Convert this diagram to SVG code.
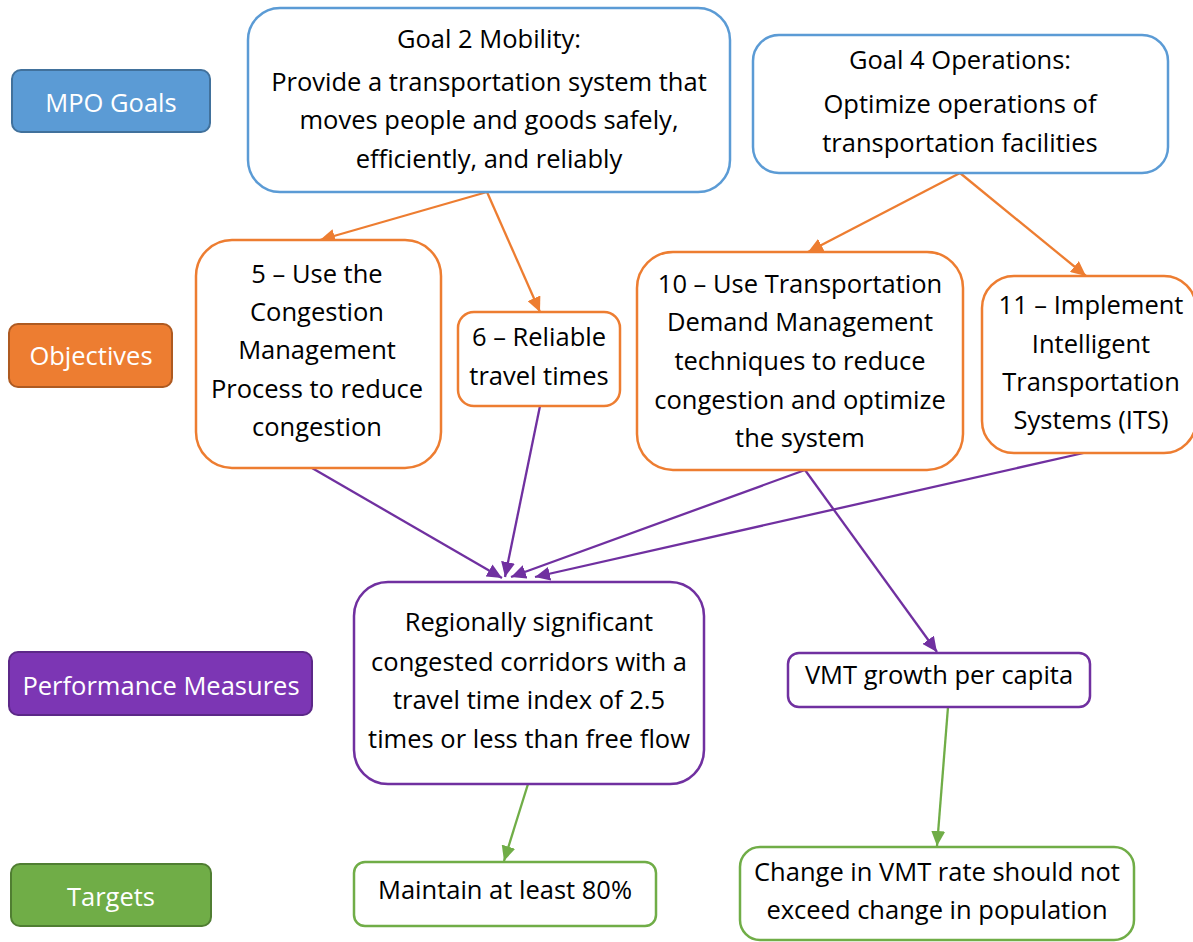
<svg xmlns="http://www.w3.org/2000/svg" width="1193" height="942" viewBox="0 0 1193 942">
<style>
text{font-family:"Open Sans","Noto Sans","Liberation Sans",sans-serif;font-size:25.5px;text-anchor:middle;fill:#000;font-variant-ligatures:none}
.lbl text{fill:#fff}
.box{fill:#fff;stroke-width:2.5}
.b{stroke:#5B9BD5}.o{stroke:#ED7D31}.p{stroke:#7030A0}.g{stroke:#70AD47}
.con line{stroke-width:2.3;fill:none}
</style>
<defs>
<marker id="ao" markerUnits="userSpaceOnUse" markerWidth="16" markerHeight="14" refX="15" refY="7" orient="auto"><path d="M0,0 L15,7 L0,14 z" fill="#ED7D31"/></marker>
<marker id="ap" markerUnits="userSpaceOnUse" markerWidth="16" markerHeight="14" refX="15" refY="7" orient="auto"><path d="M0,0 L15,7 L0,14 z" fill="#7030A0"/></marker>
<marker id="ag" markerUnits="userSpaceOnUse" markerWidth="16" markerHeight="14" refX="15" refY="7" orient="auto"><path d="M0,0 L15,7 L0,14 z" fill="#70AD47"/></marker>
</defs>
<rect width="1193" height="942" fill="#fff"/>

<g id="lbl-goals" class="lbl"><rect x="12" y="70" width="198" height="62" rx="9" fill="#5B9BD5" stroke="#41719C" stroke-width="2"/><text x="111" y="112">MPO Goals</text></g>
<g id="lbl-objectives" class="lbl"><rect x="9" y="324" width="163" height="63" rx="9" fill="#ED7D31" stroke="#AE5A21" stroke-width="2"/><text x="91" y="365">Objectives</text></g>
<g id="lbl-measures" class="lbl"><rect x="9" y="652" width="303" height="63" rx="9" fill="#7C36B4" stroke="#5C2888" stroke-width="2"/><text x="161" y="695">Performance Measures</text></g>
<g id="lbl-targets" class="lbl"><rect x="11" y="864" width="200" height="62" rx="9" fill="#70AD47" stroke="#507E32" stroke-width="2"/><text x="111" y="906">Targets</text></g>

<g class="con">
<line x1="487" y1="192" x2="320" y2="240" stroke="#ED7D31" marker-end="url(#ao)"/>
<line x1="487" y1="192" x2="540" y2="312" stroke="#ED7D31" marker-end="url(#ao)"/>
<line x1="960" y1="173" x2="808" y2="252" stroke="#ED7D31" marker-end="url(#ao)"/>
<line x1="960" y1="173" x2="1086" y2="276" stroke="#ED7D31" marker-end="url(#ao)"/>
<line x1="312" y1="468" x2="502" y2="578" stroke="#7030A0" marker-end="url(#ap)"/>
<line x1="540" y1="406" x2="505" y2="577" stroke="#7030A0" marker-end="url(#ap)"/>
<line x1="805" y1="470" x2="511" y2="577" stroke="#7030A0" marker-end="url(#ap)"/>
<line x1="1088" y1="452" x2="535" y2="577" stroke="#7030A0" marker-end="url(#ap)"/>
<line x1="805" y1="470" x2="937" y2="652" stroke="#7030A0" marker-end="url(#ap)"/>
<line x1="528" y1="784" x2="504" y2="861" stroke="#70AD47" marker-end="url(#ag)"/>
<line x1="948" y1="707" x2="937" y2="846" stroke="#70AD47" marker-end="url(#ag)"/>
</g>

<g id="goal2"><rect class="box b" x="248" y="8" width="482" height="184" rx="32"/>
<text x="489" y="48">Goal 2 Mobility:</text>
<text x="489" y="91">Provide a transportation system that</text>
<text x="489" y="129">moves people and goods safely,</text>
<text x="489" y="168">efficiently, and reliably</text></g>

<g id="goal4"><rect class="box b" x="753" y="35" width="415" height="138" rx="26"/>
<text x="960" y="69">Goal 4 Operations:</text>
<text x="960" y="113">Optimize operations of</text>
<text x="960" y="152">transportation facilities</text></g>

<g id="obj5"><rect class="box o" x="196" y="240" width="245" height="228" rx="36"/>
<text x="317" y="283">5 – Use the</text>
<text x="317" y="321">Congestion</text>
<text x="317" y="359">Management</text>
<text x="317" y="398">Process to reduce</text>
<text x="317" y="436">congestion</text></g>

<g id="obj6"><rect class="box o" x="458" y="312" width="162" height="94" rx="16"/>
<text x="539" y="346">6 – Reliable</text>
<text x="539" y="385">travel times</text></g>

<g id="obj10"><rect class="box o" x="637" y="252" width="326" height="218" rx="36"/>
<text x="800" y="293">10 – Use Transportation</text>
<text x="800" y="331">Demand Management</text>
<text x="800" y="370">techniques to reduce</text>
<text x="800" y="409">congestion and optimize</text>
<text x="800" y="447">the system</text></g>

<g id="obj11"><rect class="box o" x="982" y="276" width="214" height="177" rx="32"/>
<text x="1091" y="314">11 – Implement</text>
<text x="1091" y="353">Intelligent</text>
<text x="1091" y="391">Transportation</text>
<text x="1091" y="429">Systems (ITS)</text></g>

<g id="pm1"><rect class="box p" x="354" y="582" width="350" height="202" rx="34"/>
<text x="529" y="631">Regionally significant</text>
<text x="529" y="671">congested corridors with a</text>
<text x="529" y="709">travel time index of 2.5</text>
<text x="529" y="748">times or less than free flow</text></g>

<g id="pm2"><rect class="box p" x="788" y="653" width="302" height="54" rx="11"/>
<text x="939" y="684">VMT growth per capita</text></g>

<g id="t1"><rect class="box g" x="354" y="862" width="302" height="64" rx="11"/>
<text x="505" y="899">Maintain at least 80%</text></g>

<g id="t2"><rect class="box g" x="740" y="847" width="394" height="93" rx="20"/>
<text x="937" y="881">Change in VMT rate should not</text>
<text x="937" y="919">exceed change in population</text></g>
</svg>
